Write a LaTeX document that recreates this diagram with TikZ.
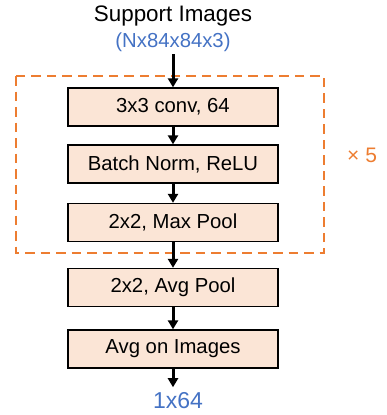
\documentclass[tikz,border=0pt]{standalone}
\usepackage{fontspec}
\setmainfont{Liberation Sans}
\usetikzlibrary{arrows.meta}
\definecolor{peach}{HTML}{FBE5D6}
\definecolor{orng}{HTML}{ED7D31}
\definecolor{blu}{HTML}{4472C4}
\tikzset{
  layerbox/.style={draw=black, line width=1.3pt, fill=peach, minimum width=210pt, minimum height=38pt, inner sep=0pt, font=\fontsize{20.3}{24}\selectfont},
  arr/.style={line width=3pt, -{Triangle[width=10pt,length=9pt]}},
  lbl/.style={inner sep=3pt, anchor=base},
}
\begin{document}
\begin{tikzpicture}[x=1pt,y=-1pt]
\useasboundingbox (0,0) rectangle (386,415);
\node[lbl, font=\fontsize{22.4}{26}\selectfont] (title) at (173,21) {Support Images};
\node[lbl, text=blu, font=\fontsize{20.3}{24}\selectfont] (nx) at (173,47) {(Nx84x84x3)};
\draw[orng, line width=2.6pt, dash pattern=on 9.5pt off 6pt] (16,76) rectangle (324,253);
\node[layerbox] (b1) at (173,107) {3x3 conv, 64};
\node[layerbox] (b2) at (173,164) {Batch Norm, ReLU};
\node[layerbox] (b3) at (173,222.5) {2x2, Max Pool};
\node[layerbox] (b4) at (173,287.5) {2x2, Avg Pool};
\node[layerbox] (b5) at (173,349) {Avg on Images};
\node[lbl, text=blu, font=\fontsize{23}{27}\selectfont, inner ysep=4.5pt] (out) at (178,408) {1x64};
\node[text=orng, font=\fontsize{21}{25}\selectfont, anchor=base west, inner sep=0pt] (rep) at (347,162) {× 5};
\draw[arr] (nx.south -| b1.north) -- (b1.north);
\draw[arr] (b1) -- (b2);
\draw[arr] (b2) -- (b3);
\draw[arr] (b3) -- (b4);
\draw[arr] (b4) -- (b5);
\draw[arr] (b5.south) -- (b5.south |- out.north);
\end{tikzpicture}
\end{document}
